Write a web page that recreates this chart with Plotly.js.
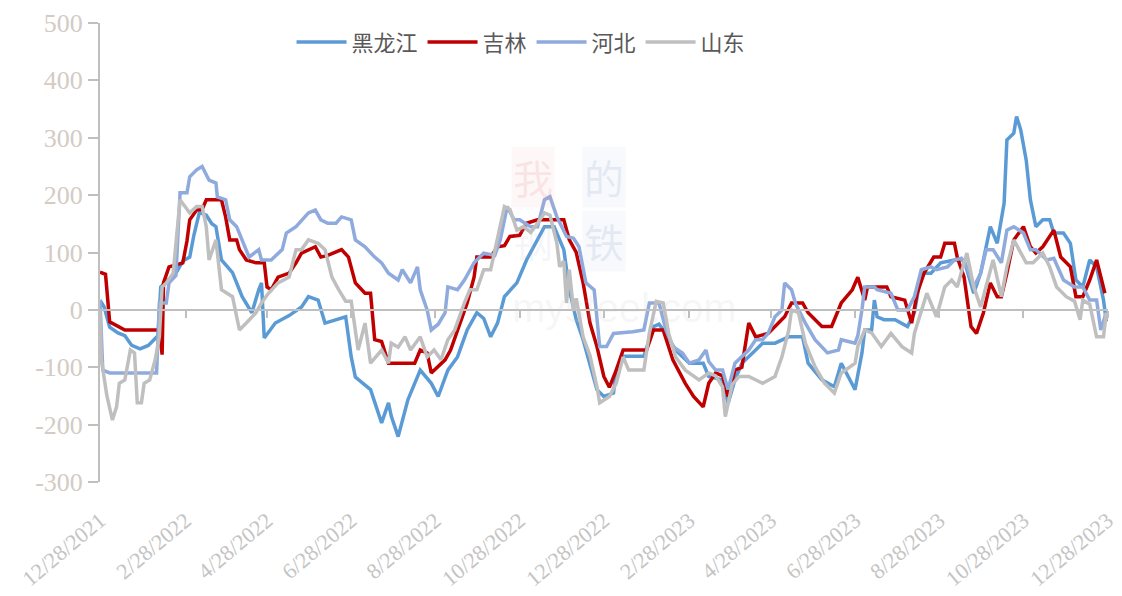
<!DOCTYPE html>
<html><head><meta charset="utf-8">
<script src="https://cdn.plot.ly/plotly-3.0.1.min.js"></script>
<style>html,body{margin:0;padding:0;background:#fff}#chart{width:1122px;height:596px}</style>
</head><body><div id="chart"></div>
<script>
const tickDates = ['2021-12-28','2022-02-28','2022-04-28','2022-06-28','2022-08-28','2022-10-28','2022-12-28','2023-02-28','2023-04-28','2023-06-28','2023-08-28','2023-10-28','2023-12-28'];
const tickLabels = ['12/28/2021','2/28/2022','4/28/2022','6/28/2022','8/28/2022','10/28/2022','12/28/2022','2/28/2023','4/28/2023','6/28/2023','8/28/2023','10/28/2023','12/28/2023'];
const yTickVals = [-300,-200,-100,0,100,200,300,400,500];
const yTickLabels = ['-300','-200','-100','0','100','200','300','400','500'];
const seriesNames = ['黑龙江','吉林','河北','山东'];

const heilongjiang = [['2021-12-28',17],['2021-12-31',5],['2022-01-04',-30],['2022-01-10',-40],['2022-01-15',-45],['2022-01-20',-62],['2022-01-26',-68],['2022-02-01',-62],['2022-02-06',-50],['2022-02-08',-45],['2022-02-10',40],['2022-02-14',50],['2022-02-20',60],['2022-02-26',85],['2022-03-03',92],['2022-03-06',130],['2022-03-10',170],['2022-03-15',165],['2022-03-19',150],['2022-03-22',145],['2022-03-26',87],['2022-04-03',65],['2022-04-10',23],['2022-04-17',-5],['2022-04-22',35],['2022-04-24',47],['2022-04-26',-49],['2022-05-04',-23],['2022-05-14',-10],['2022-05-23',5],['2022-05-28',23],['2022-06-04',17],['2022-06-09',-23],['2022-06-19',-15],['2022-06-24',-12],['2022-06-28',-82],['2022-07-01',-117],['2022-07-12',-139],['2022-07-20',-197],['2022-07-25',-162],['2022-07-27',-185],['2022-08-01',-221],['2022-08-08',-157],['2022-08-17',-105],['2022-08-25',-128],['2022-08-30',-151],['2022-09-06',-105],['2022-09-13',-82],['2022-09-20',-35],['2022-09-27',-5],['2022-10-02',-15],['2022-10-07',-47],['2022-10-12',-23],['2022-10-17',23],['2022-10-26',47],['2022-11-02',87],['2022-11-10',122],['2022-11-15',145],['2022-11-22',145],['2022-11-29',105],['2022-12-03',35],['2022-12-08',-17],['2022-12-13',-52],['2022-12-18',-93],['2022-12-23',-139],['2022-12-28',-151],['2023-01-04',-145],['2023-01-06',-105],['2023-01-11',-81],['2023-01-26',-81],['2023-02-02',-29],['2023-02-06',-25],['2023-02-11',-41],['2023-02-18',-70],['2023-02-28',-93],['2023-03-10',-93],['2023-03-14',-116],['2023-03-24',-122],['2023-03-28',-163],['2023-04-02',-122],['2023-04-07',-93],['2023-04-17',-70],['2023-04-22',-58],['2023-05-01',-58],['2023-05-11',-47],['2023-05-21',-47],['2023-05-25',-93],['2023-06-04',-122],['2023-06-13',-134],['2023-06-18',-93],['2023-06-23',-117],['2023-06-28',-139],['2023-07-03',-75],['2023-07-05',-35],['2023-07-10',-35],['2023-07-12',17],['2023-07-14',-12],['2023-07-19',-17],['2023-07-27',-17],['2023-08-05',-29],['2023-08-10',-5],['2023-08-15',64],['2023-08-22',64],['2023-08-29',82],['2023-09-08',87],['2023-09-15',87],['2023-09-22',29],['2023-09-27',64],['2023-10-04',145],['2023-10-09',116],['2023-10-14',186],['2023-10-16',296],['2023-10-21',308],['2023-10-23',337],['2023-10-26',314],['2023-10-30',261],['2023-11-02',192],['2023-11-06',145],['2023-11-11',157],['2023-11-16',157],['2023-11-19',134],['2023-11-26',134],['2023-12-01',116],['2023-12-05',52],['2023-12-10',40],['2023-12-15',87],['2023-12-20',75],['2023-12-25',17],['2023-12-27',-20]];

const jilin = [['2021-12-28',66],['2022-01-01',62],['2022-01-04',-21],['2022-01-10',-28],['2022-01-15',-35],['2022-02-09',-35],['2022-02-11',-78],['2022-02-12',47],['2022-02-16',75],['2022-02-26',82],['2022-03-01',120],['2022-03-03',157],['2022-03-08',174],['2022-03-12',175],['2022-03-15',192],['2022-03-26',192],['2022-03-29',162],['2022-04-01',122],['2022-04-06',122],['2022-04-08',105],['2022-04-13',87],['2022-04-20',82],['2022-04-26',82],['2022-04-28',40],['2022-05-01',35],['2022-05-06',57],['2022-05-14',64],['2022-05-19',82],['2022-05-23',99],['2022-06-02',110],['2022-06-06',92],['2022-06-11',95],['2022-06-21',105],['2022-06-26',92],['2022-07-01',47],['2022-07-08',29],['2022-07-12',29],['2022-07-15',-52],['2022-07-20',-55],['2022-07-25',-93],['2022-08-13',-93],['2022-08-17',-70],['2022-08-22',-75],['2022-08-25',-110],['2022-09-04',-87],['2022-09-08',-70],['2022-09-15',-23],['2022-09-20',12],['2022-09-25',57],['2022-09-27',92],['2022-10-07',92],['2022-10-12',110],['2022-10-17',112],['2022-10-21',128],['2022-10-28',130],['2022-11-02',151],['2022-11-10',157],['2022-11-29',157],['2022-12-03',122],['2022-12-08',100],['2022-12-13',47],['2022-12-18',-23],['2022-12-23',-64],['2022-12-28',-116],['2023-01-01',-135],['2023-01-06',-105],['2023-01-11',-70],['2023-01-28',-70],['2023-02-02',-35],['2023-02-09',-35],['2023-02-16',-87],['2023-02-20',-105],['2023-02-25',-128],['2023-03-03',-151],['2023-03-10',-169],['2023-03-14',-128],['2023-03-19',-110],['2023-03-24',-115],['2023-03-28',-151],['2023-04-02',-105],['2023-04-07',-100],['2023-04-12',-23],['2023-04-17',-47],['2023-04-26',-41],['2023-05-01',-29],['2023-05-08',-12],['2023-05-13',12],['2023-05-21',12],['2023-05-25',-5],['2023-06-04',-29],['2023-06-11',-29],['2023-06-18',12],['2023-06-26',35],['2023-06-30',57],['2023-07-05',17],['2023-07-07',40],['2023-07-21',40],['2023-07-24',23],['2023-08-03',17],['2023-08-08',-23],['2023-08-12',29],['2023-08-17',64],['2023-08-24',92],['2023-08-29',92],['2023-09-01',116],['2023-09-08',116],['2023-09-10',92],['2023-09-15',57],['2023-09-20',-29],['2023-09-24',-41],['2023-09-29',-5],['2023-10-04',47],['2023-10-09',23],['2023-10-12',23],['2023-10-16',64],['2023-10-21',122],['2023-10-28',145],['2023-11-02',110],['2023-11-06',99],['2023-11-11',110],['2023-11-19',139],['2023-11-24',92],['2023-12-01',75],['2023-12-05',23],['2023-12-10',23],['2023-12-15',52],['2023-12-20',87],['2023-12-25',40],['2023-12-26',29]];

const hebei = [['2021-12-28',17],['2021-12-30',-105],['2022-01-04',-110],['2022-02-07',-110],['2022-02-09',12],['2022-02-14',12],['2022-02-16',47],['2022-02-21',60],['2022-02-24',204],['2022-03-01',204],['2022-03-03',232],['2022-03-08',244],['2022-03-12',250],['2022-03-17',226],['2022-03-22',221],['2022-03-23',197],['2022-03-29',192],['2022-04-01',157],['2022-04-06',145],['2022-04-10',122],['2022-04-15',92],['2022-04-22',105],['2022-04-24',87],['2022-05-01',87],['2022-05-09',105],['2022-05-12',134],['2022-05-19',145],['2022-05-28',169],['2022-06-02',174],['2022-06-06',157],['2022-06-11',151],['2022-06-17',151],['2022-06-21',162],['2022-06-28',157],['2022-07-01',122],['2022-07-08',110],['2022-07-15',92],['2022-07-20',82],['2022-07-25',64],['2022-08-01',52],['2022-08-04',70],['2022-08-10',47],['2022-08-15',75],['2022-08-17',35],['2022-08-22',0],['2022-08-25',-35],['2022-08-30',-25],['2022-09-04',-5],['2022-09-06',40],['2022-09-13',35],['2022-09-18',52],['2022-09-25',82],['2022-10-02',99],['2022-10-10',95],['2022-10-14',122],['2022-10-19',180],['2022-10-24',157],['2022-10-28',157],['2022-11-05',145],['2022-11-10',145],['2022-11-15',192],['2022-11-19',197],['2022-11-24',162],['2022-12-01',128],['2022-12-06',125],['2022-12-10',110],['2022-12-15',47],['2022-12-21',35],['2022-12-25',-64],['2022-12-30',-64],['2023-01-04',-41],['2023-01-18',-38],['2023-01-26',-35],['2023-01-30',12],['2023-02-06',12],['2023-02-11',-35],['2023-02-16',-64],['2023-02-23',-75],['2023-02-28',-93],['2023-03-07',-87],['2023-03-12',-70],['2023-03-14',-90],['2023-03-19',-105],['2023-03-24',-105],['2023-03-28',-139],['2023-04-02',-93],['2023-04-07',-82],['2023-04-12',-70],['2023-04-17',-52],['2023-04-22',-52],['2023-04-26',-41],['2023-05-01',-12],['2023-05-06',0],['2023-05-08',47],['2023-05-13',35],['2023-05-16',10],['2023-05-23',-23],['2023-05-30',-52],['2023-06-08',-75],['2023-06-16',-70],['2023-06-18',-52],['2023-06-28',-58],['2023-06-30',-45],['2023-07-03',0],['2023-07-05',40],['2023-07-12',40],['2023-07-14',35],['2023-07-24',29],['2023-07-29',0],['2023-08-05',0],['2023-08-10',23],['2023-08-15',70],['2023-08-22',75],['2023-08-26',70],['2023-09-03',75],['2023-09-08',87],['2023-09-13',90],['2023-09-17',75],['2023-09-22',40],['2023-09-27',64],['2023-10-01',105],['2023-10-06',105],['2023-10-12',82],['2023-10-16',139],['2023-10-21',145],['2023-10-28',134],['2023-11-02',105],['2023-11-06',105],['2023-11-14',87],['2023-11-19',90],['2023-11-26',52],['2023-12-04',40],['2023-12-10',40],['2023-12-15',17],['2023-12-20',17],['2023-12-23',-35],['2023-12-27',-5]];

const shandong = [['2021-12-28',0],['2021-12-29',-87],['2022-01-02',-150],['2022-01-06',-192],['2022-01-09',-169],['2022-01-11',-128],['2022-01-15',-122],['2022-01-19',-70],['2022-01-22',-75],['2022-01-24',-162],['2022-01-27',-162],['2022-01-29',-128],['2022-02-02',-122],['2022-02-06',-87],['2022-02-09',-47],['2022-02-11',40],['2022-02-14',47],['2022-02-19',64],['2022-02-24',192],['2022-03-03',169],['2022-03-08',180],['2022-03-12',180],['2022-03-15',145],['2022-03-17',87],['2022-03-22',122],['2022-03-26',35],['2022-04-03',23],['2022-04-08',-35],['2022-04-13',-23],['2022-04-20',-5],['2022-04-24',12],['2022-04-29',29],['2022-05-06',47],['2022-05-14',57],['2022-05-19',105],['2022-05-23',105],['2022-05-28',122],['2022-06-04',116],['2022-06-09',105],['2022-06-14',57],['2022-06-19',35],['2022-06-24',15],['2022-06-28',15],['2022-07-03',-70],['2022-07-08',-23],['2022-07-12',-93],['2022-07-20',-70],['2022-07-25',-93],['2022-07-27',-58],['2022-08-01',-65],['2022-08-06',-47],['2022-08-10',-70],['2022-08-17',-47],['2022-08-22',-82],['2022-08-27',-70],['2022-09-01',-87],['2022-09-06',-52],['2022-09-11',-35],['2022-09-18',12],['2022-09-22',35],['2022-09-27',35],['2022-10-02',70],['2022-10-07',70],['2022-10-12',122],['2022-10-17',180],['2022-10-21',175],['2022-10-26',139],['2022-10-31',145],['2022-11-05',135],['2022-11-10',151],['2022-11-15',169],['2022-11-19',165],['2022-11-24',116],['2022-11-26',75],['2022-11-29',85],['2022-12-01',12],['2022-12-03',70],['2022-12-06',0],['2022-12-08',20],['2022-12-13',-47],['2022-12-18',-80],['2022-12-23',-134],['2022-12-25',-162],['2023-01-01',-151],['2023-01-06',-128],['2023-01-11',-82],['2023-01-15',-105],['2023-01-26',-105],['2023-01-30',-40],['2023-02-04',15],['2023-02-09',12],['2023-02-13',-41],['2023-02-18',-82],['2023-02-25',-105],['2023-03-07',-122],['2023-03-14',-110],['2023-03-19',-115],['2023-03-24',-134],['2023-03-26',-186],['2023-03-31',-130],['2023-04-05',-116],['2023-04-12',-116],['2023-04-22',-128],['2023-05-01',-116],['2023-05-06',-82],['2023-05-11',-35],['2023-05-13',0],['2023-05-18',-5],['2023-05-23',-58],['2023-05-30',-99],['2023-06-06',-128],['2023-06-13',-145],['2023-06-18',-110],['2023-06-28',-93],['2023-06-30',-64],['2023-07-05',-35],['2023-07-10',-40],['2023-07-17',-64],['2023-07-24',-41],['2023-08-01',-64],['2023-08-08',-75],['2023-08-10',-41],['2023-08-15',0],['2023-08-19',29],['2023-08-26',-12],['2023-09-01',40],['2023-09-06',52],['2023-09-10',40],['2023-09-17',99],['2023-09-22',40],['2023-09-27',5],['2023-10-01',40],['2023-10-06',87],['2023-10-12',23],['2023-10-16',75],['2023-10-21',122],['2023-10-26',99],['2023-10-30',82],['2023-11-04',82],['2023-11-11',99],['2023-11-16',75],['2023-11-21',40],['2023-11-28',23],['2023-12-04',15],['2023-12-08',-17],['2023-12-10',17],['2023-12-15',10],['2023-12-20',-47],['2023-12-25',-47],['2023-12-27',-5]];

const seriesData = [heilongjiang, jilin, hebei, shandong];
const seriesColors = ['#5B9BD5','#C00000','#8FAADC','#BFBFBF'];

const traces = seriesData.map((s, i) => ({
  type: 'scatter', mode: 'lines', name: seriesNames[i],
  x: s.map(p => p[0]), y: s.map(p => p[1]),
  line: {color: seriesColors[i], width: 3.5}, hoverinfo: 'x+y+name'
}));
// helper trace so the zero-line axis (x2) is drawn
traces.push({type:'scatter', mode:'lines', x:[tickDates[0]], y:[null], xaxis:'x2', yaxis:'y', showlegend:false, hoverinfo:'skip'});

const xRange = [tickDates[0], '2023-12-28 06:00'];
const layout = {
  width: 1122, height: 596,
  margin: {l: 100, r: 14, t: 23, b: 114},
  paper_bgcolor: '#ffffff', plot_bgcolor: '#ffffff',
  showlegend: true,
  legend: {orientation: 'h', x: 0.19, xanchor: 'left', y: 0.958, yanchor: 'middle',
           font: {family: 'Noto Sans CJK SC', size: 22, color: '#595959'},
           itemwidth: 50, entrywidth: 0, bgcolor: 'rgba(0,0,0,0)', traceorder: 'normal'},
  xaxis: {type: 'date', range: xRange, tickvals: tickDates, ticktext: tickLabels, tickangle: -40,
          ticks: 'outside', ticklen: 16, tickcolor: 'rgba(0,0,0,0)', showline: false, showgrid: false, zeroline: false,
          tickfont: {family: 'Liberation Serif', size: 22, color: '#c4c4c4'}},
  xaxis2: {type: 'date', overlaying: 'x', anchor: 'free', position: 0.375, range: xRange, tickvals: tickDates,
           showticklabels: false, ticks: 'outside', ticklen: 7, tickwidth: 2, tickcolor: '#bfbfbf',
           showline: true, linecolor: '#bfbfbf', linewidth: 2, showgrid: false, zeroline: false},
  yaxis: {range: [-300, 500], tickvals: yTickVals, ticktext: yTickLabels, showline: true, linecolor: '#bfbfbf', linewidth: 2,
          ticks: 'outside', ticklen: 10, tickwidth: 2, tickcolor: '#bfbfbf', showgrid: false, zeroline: false,
          tickfont: {family: 'Liberation Serif', size: 26, color: '#d3cbc4'}},
  annotations: [
    {text: '我', xref: 'paper', yref: 'paper', x: 0.43, y: 0.665, showarrow: false, font: {family: 'Noto Sans CJK SC', size: 40, color: 'rgba(230,120,120,0.16)'}, bgcolor: 'rgba(240,180,180,0.10)'},
    {text: '的', xref: 'paper', yref: 'paper', x: 0.5, y: 0.665, showarrow: false, font: {family: 'Noto Sans CJK SC', size: 40, color: 'rgba(120,150,200,0.16)'}, bgcolor: 'rgba(180,200,230,0.10)'},
    {text: '钢', xref: 'paper', yref: 'paper', x: 0.43, y: 0.525, showarrow: false, font: {family: 'Noto Sans CJK SC', size: 40, color: 'rgba(180,180,200,0.12)'}},
    {text: '铁', xref: 'paper', yref: 'paper', x: 0.5, y: 0.525, showarrow: false, font: {family: 'Noto Sans CJK SC', size: 40, color: 'rgba(120,150,200,0.16)'}, bgcolor: 'rgba(180,200,230,0.10)'},
    {text: 'mysteel.com', xref: 'paper', yref: 'paper', x: 0.52, y: 0.38, showarrow: false, font: {family: 'Liberation Sans', size: 40, color: 'rgba(200,200,200,0.16)'}}
  ]
};
Plotly.newPlot('chart', traces, layout, {displayModeBar: false, staticPlot: true});
</script>
</body></html>
